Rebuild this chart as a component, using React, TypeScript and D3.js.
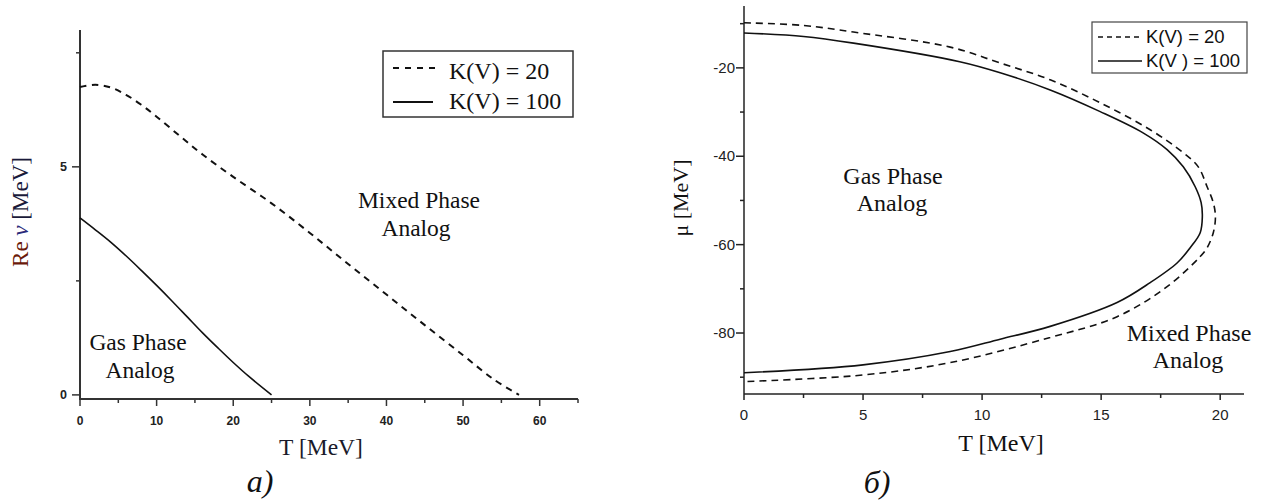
import React from "react";
import * as d3 from "d3";

// ---------- Panel a) data ----------
const aTicksX = [0, 10, 20, 30, 40, 50, 60];
const aMinorX = [5, 15, 25, 35, 45, 55, 65];
const aTicksY = [0, 5];
const aMinorY = [2.5, 7.5];
const aDashT = [0, 2, 4, 6, 8, 10, 13, 16, 20, 25, 30, 35, 40, 45, 50, 54, 57.3];
const aDashV = [6.75, 6.8, 6.74, 6.58, 6.36, 6.1, 5.68, 5.27, 4.78, 4.2, 3.55, 2.87, 2.2, 1.53, 0.87, 0.34, 0];
const aSolidT = [0, 2, 4, 6, 8, 10, 12, 14, 16, 18, 20, 22, 25];
const aSolidV = [3.88, 3.62, 3.35, 3.05, 2.73, 2.4, 2.06, 1.71, 1.36, 1.03, 0.71, 0.41, 0];

// ---------- Panel б) data ----------
const bTicksX = [0, 5, 10, 15, 20];
const bMinorX = [2.5, 7.5, 12.5, 17.5];
const bTicksY = [-20, -40, -60, -80];
const bMinorY = [-10, -30, -50, -70, -90];
const bDashT = [0, 2.5, 4.6, 8.66, 10.76, 12.86, 14.96, 17.06, 18.45, 19.08, 19.45, 19.71, 19.8, 19.71, 19.45, 19.16, 17.77, 15.67, 12.86, 8.66, 5, 0];
const bDashMu = [-9.8, -10.4, -11.9, -15.3, -18.9, -22.7, -27.9, -34.0, -39.2, -42.4, -46.9, -50.5, -53.7, -57.3, -60.7, -62.7, -69.5, -76.3, -81, -86.7, -89.5, -91];
const bSolidT = [0, 2.5, 4.6, 9.06, 10.76, 12.86, 14.96, 16.76, 17.77, 18.45, 18.95, 19.2, 19.25, 19.16, 18.74, 18.2, 17.06, 15.67, 12.86, 10.76, 8.66, 5, 0];
const bSolidMu = [-12.1, -12.9, -14.4, -18.6, -21.1, -25, -29.9, -34.7, -38.5, -42.4, -46.9, -50.5, -53.7, -57.3, -60.7, -64.1, -68.6, -73.1, -78.5, -81.4, -84.2, -87.2, -89];

const legendLabels = ["K(V) = 20", "K(V) = 100"];
const bLegendLabels = ["K(V) = 20", "K(V ) = 100"];

const serif = "'Liberation Serif', 'Times New Roman', serif";
const sans = "'Liberation Sans', Arial, sans-serif";

type P = [number, number];
const zip = (a: number[], b: number[]): P[] => a.map((v, i) => [v, b[i]]);

export default function App() {
  // Panel a scales
  const ax = d3.scaleLinear().domain([0, 65]).range([80, 578]);
  const ay = d3.scaleLinear().domain([-0.09, 8]).range([399, 30]);
  const aLine = d3
    .line<P>()
    .x((d) => ax(d[0]))
    .y((d) => ay(d[1]))
    .curve(d3.curveCatmullRom);

  // Panel b scales
  const bx = d3.scaleLinear().domain([0, 21]).range([744, 1244]);
  const by = d3.scaleLinear().domain([-93.8, -6]).range([394, 6]);
  const bLine = d3
    .line<P>()
    .x((d) => bx(d[0]))
    .y((d) => by(d[1]))
    .curve(d3.curveCatmullRom.alpha(0.5));

  const axColor = "#333";
  const lbl = 23.5;

  return (
    <svg width={1270} height={504} style={{ position: "absolute", left: 0, top: 0, background: "#fff" }}>
      {/* ---------------- Panel a ---------------- */}
      <g>
        <line x1={ax(0)} x2={ax(0)} y1={ay(8)} y2={ay(-0.09) + 1} stroke={axColor} strokeWidth={2} />
        <line x1={ax(0) - 1} x2={ax(65)} y1={ay(-0.09)} y2={ay(-0.09)} stroke={axColor} strokeWidth={2} />
        {aTicksX.map((t) => (
          <g key={"ax" + t}>
            <line x1={ax(t)} x2={ax(t)} y1={ay(-0.09)} y2={ay(-0.09) + 7} stroke={axColor} strokeWidth={1.5} />
            <text x={ax(t)} y={425} textAnchor="middle" fontFamily={sans} fontSize={12} fontWeight="bold" fill="#222">
              {t}
            </text>
          </g>
        ))}
        {aMinorX.map((t) => (
          <line key={"axm" + t} x1={ax(t)} x2={ax(t)} y1={ay(-0.09)} y2={ay(-0.09) + 4} stroke={axColor} strokeWidth={1.5} />
        ))}
        {aTicksY.map((v) => (
          <g key={"ay" + v}>
            <line x1={ax(0) - 8} x2={ax(0)} y1={ay(v)} y2={ay(v)} stroke={axColor} strokeWidth={1.5} />
            <text x={67} y={ay(v) + 4.5} textAnchor="end" fontFamily={sans} fontSize={12.5} fontWeight="bold" fill="#222">
              {v}
            </text>
          </g>
        ))}
        {aMinorY.map((v) => (
          <line key={"aym" + v} x1={ax(0) - 4} x2={ax(0)} y1={ay(v)} y2={ay(v)} stroke={axColor} strokeWidth={1.5} />
        ))}

        <path d={aLine(zip(aDashT, aDashV)) || ""} fill="none" stroke="#111" strokeWidth={2} strokeDasharray="6.5,5.5" />
        <path d={aLine(zip(aSolidT, aSolidV)) || ""} fill="none" stroke="#111" strokeWidth={1.6} />

        {/* legend */}
        <rect x={383} y={51} width={190} height={66} fill="#fff" stroke="#333" strokeWidth={1.5} />
        <line x1={393} x2={435} y1={68} y2={68} stroke="#111" strokeWidth={2} strokeDasharray="6,6" />
        <line x1={393} x2={433} y1={102} y2={102} stroke="#111" strokeWidth={2} />
        <text x={449} y={79} fontFamily={serif} fontSize={24} fill="#111">{legendLabels[0]}</text>
        <text x={449} y={109} fontFamily={serif} fontSize={24} fill="#111">{legendLabels[1]}</text>

        {/* region labels */}
        <text x={419} y={208} textAnchor="middle" fontFamily={serif} fontSize={lbl} fill="#111">Mixed Phase</text>
        <text x={416} y={236} textAnchor="middle" fontFamily={serif} fontSize={lbl} fill="#111">Analog</text>
        <text x={138} y={350} textAnchor="middle" fontFamily={serif} fontSize={lbl} fill="#111">Gas Phase</text>
        <text x={140} y={378} textAnchor="middle" fontFamily={serif} fontSize={lbl} fill="#111">Analog</text>

        {/* axis titles */}
        <text x={321} y={455} textAnchor="middle" fontFamily={serif} fontSize={lbl} fill="#1a1a2a">T [MeV]</text>
        <text transform="translate(28,212) rotate(-90)" textAnchor="middle" fontFamily={serif} fontSize={23}>
          <tspan fill="#6b1a0a">Re </tspan>
          <tspan fill="#2a2a7a" fontStyle="italic">ν</tspan>
          <tspan fill="#1a1a3a">{"  [MeV]"}</tspan>
        </text>
        <text x={260} y={492} textAnchor="middle" fontFamily={serif} fontSize={32} fontStyle="italic" fill="#111">а)</text>
      </g>

      {/* ---------------- Panel б ---------------- */}
      <g>
        <line x1={bx(0)} x2={bx(0)} y1={by(-6)} y2={by(-93.8)} stroke="#222" strokeWidth={1.5} />
        <line x1={bx(0)} x2={bx(21)} y1={by(-93.8)} y2={by(-93.8)} stroke="#222" strokeWidth={1.5} />
        {bTicksX.map((t) => (
          <g key={"bx" + t}>
            <line x1={bx(t)} x2={bx(t)} y1={by(-93.8)} y2={by(-93.8) + 6} stroke="#222" strokeWidth={1.5} />
            <text x={bx(t)} y={420} textAnchor="middle" fontFamily={sans} fontSize={15} fill="#222">{t}</text>
          </g>
        ))}
        {bMinorX.map((t) => (
          <line key={"bxm" + t} x1={bx(t)} x2={bx(t)} y1={by(-93.8)} y2={by(-93.8) + 4} stroke="#222" strokeWidth={1.5} />
        ))}
        {bTicksY.map((v) => (
          <g key={"by" + v}>
            <line x1={bx(0) - 8} x2={bx(0)} y1={by(v)} y2={by(v)} stroke="#222" strokeWidth={1.5} />
            <text x={735} y={by(v) + 5} textAnchor="end" fontFamily={sans} fontSize={15} fill="#222">{v}</text>
          </g>
        ))}
        {bMinorY.map((v) => (
          <line key={"bym" + v} x1={bx(0) - 4} x2={bx(0)} y1={by(v)} y2={by(v)} stroke="#222" strokeWidth={1.5} />
        ))}

        <path d={bLine(zip(bDashT, bDashMu)) || ""} fill="none" stroke="#111" strokeWidth={1.6} strokeDasharray="7,5" />
        <path d={bLine(zip(bSolidT, bSolidMu)) || ""} fill="none" stroke="#111" strokeWidth={1.6} />

        {/* legend */}
        <rect x={1092} y={22} width={155} height={51} fill="#fff" stroke="#444" strokeWidth={1.2} />
        <line x1={1098} x2={1142} y1={37} y2={37} stroke="#111" strokeWidth={1.5} strokeDasharray="5,4" />
        <line x1={1098} x2={1142} y1={61} y2={61} stroke="#111" strokeWidth={1.5} />
        <text x={1146} y={43} fontFamily={sans} fontSize={18.5} fill="#111">{bLegendLabels[0]}</text>
        <text x={1146} y={67} fontFamily={sans} fontSize={18.5} fill="#111">{bLegendLabels[1]}</text>

        <text x={893} y={184} textAnchor="middle" fontFamily={serif} fontSize={24} fill="#111">Gas Phase</text>
        <text x={892} y={211} textAnchor="middle" fontFamily={serif} fontSize={24} fill="#111">Analog</text>
        <text x={1189} y={341} textAnchor="middle" fontFamily={serif} fontSize={24} fill="#111">Mixed Phase</text>
        <text x={1188} y={368} textAnchor="middle" fontFamily={serif} fontSize={24} fill="#111">Analog</text>

        <text x={1001} y={451} textAnchor="middle" fontFamily={serif} fontSize={24} fill="#111">T [MeV]</text>
        <text transform="translate(688,198) rotate(-90)" textAnchor="middle" fontFamily={serif} fontSize={22} fill="#111">
          μ [MeV]
        </text>
        <text x={877} y={493} textAnchor="middle" fontFamily={serif} fontSize={32} fontStyle="italic" fill="#111">б)</text>
      </g>
    </svg>
  );
}
